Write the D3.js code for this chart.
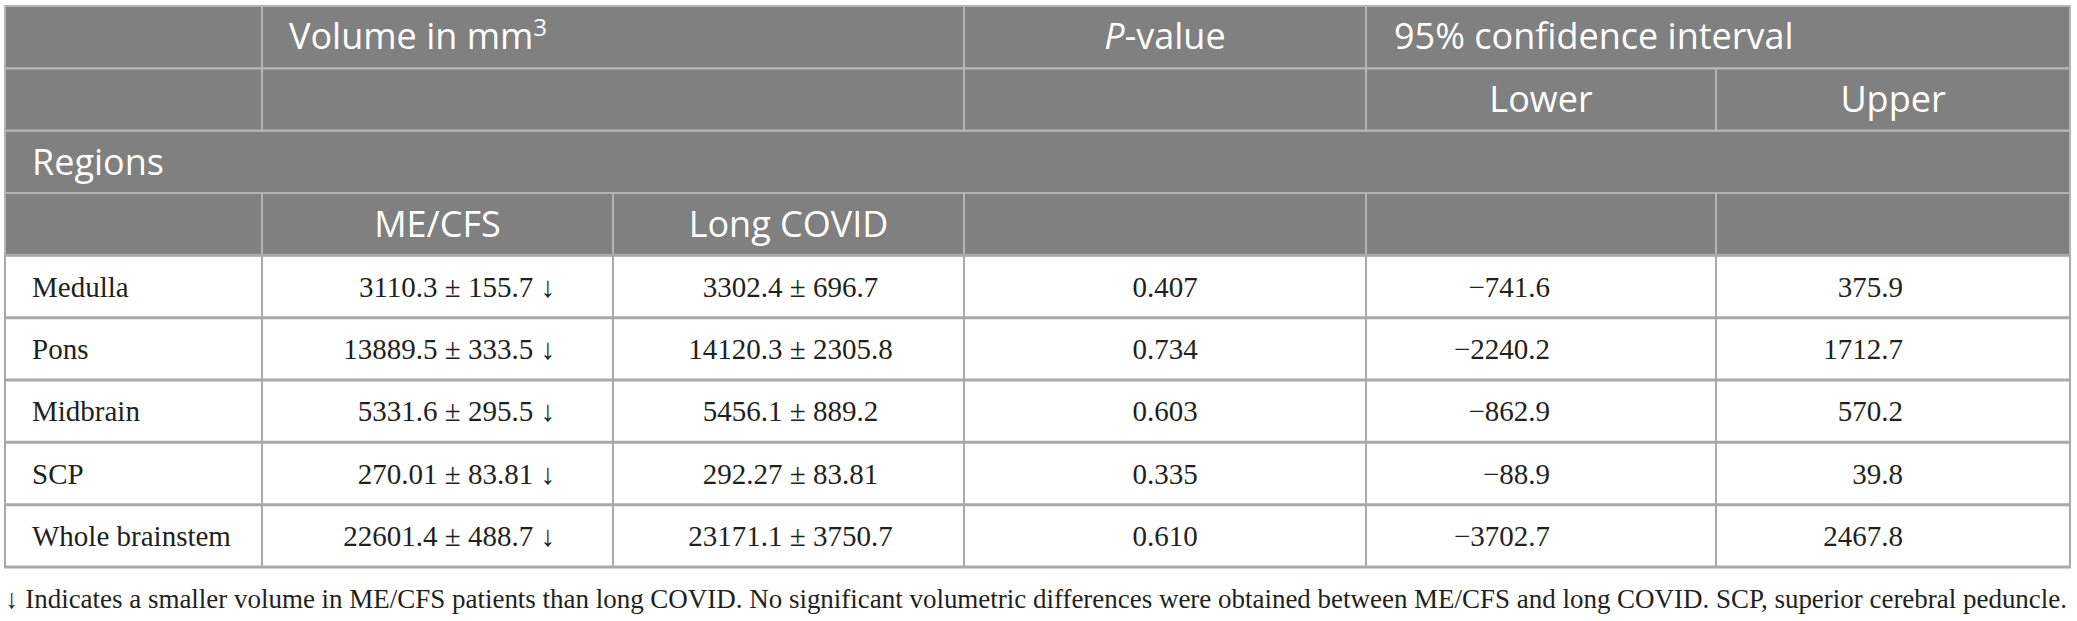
<!DOCTYPE html>
<html lang="en">
<head>
    <meta charset="UTF-8">
    <title>Brainstem volumes: ME/CFS vs long COVID</title>
    <script src="https://d3js.org/d3.v7.min.js"></script>
    <style>
        body {
            margin: 0;
            padding: 0;
            background-color: white;
        }
        svg {
            display: block;
        }
    </style>
</head>
<body>
    <div id="chart"></div>
    <script>
        // table values
        const regions = ["Medulla", "Pons", "Midbrain", "SCP", "Whole brainstem"];
        const mecfsMean = [3110.3, 13889.5, 5331.6, 270.01, 22601.4];
        const mecfsSd = [155.7, 333.5, 295.5, 83.81, 488.7];
        const longCovidMean = [3302.4, 14120.3, 5456.1, 292.27, 23171.1];
        const longCovidSd = [696.7, 2305.8, 889.2, 83.81, 3750.7];
        const decimals = [1, 1, 1, 2, 1];
        const pValues = [0.407, 0.734, 0.603, 0.335, 0.610];
        const ciLower = [-741.6, -2240.2, -862.9, -88.9, -3702.7];
        const ciUpper = [375.9, 1712.7, 570.2, 39.8, 2467.8];

        const groupLabels = ["ME/CFS", "Long COVID"];
        const ciLabels = ["Lower", "Upper"];
        const footnote = "\u2193 Indicates a smaller volume in ME/CFS patients than long COVID. No significant volumetric differences were obtained between ME/CFS and long COVID. SCP, superior cerebral peduncle.";

        const width = 2077, height = 621;
        const headerRows = 4;
        const nRows = headerRows + regions.length;

        // column edges and row edges
        const x = d3.scaleLinear()
            .domain([0, 1, 2, 3, 4, 5, 6])
            .range([5, 262, 613, 964, 1366, 1716, 2070]);
        const y = d3.scaleLinear().domain([0, nRows]).range([6, 567]);
        const rowMid = i => (y(i) + y(i + 1)) / 2;

        const headerFill = "#808080";
        const headerLine = "#b4b4b4";
        const bodyLine = "#a9a9a9";
        const sans = "'Open Sans', 'Noto Sans', sans-serif";
        const serif = "'Liberation Serif', 'Times New Roman', serif";

        const svg = d3.select("#chart")
            .append("svg")
            .attr("width", width)
            .attr("height", height);

        // header block
        svg.append("rect")
            .attr("x", x(0)).attr("y", y(0))
            .attr("width", x(6) - x(0)).attr("height", y(headerRows) - y(0))
            .attr("fill", headerFill);

        // header spans per row: [startCol, endCol]
        const headerSpans = [
            [[0, 1], [1, 3], [3, 4], [4, 6]],
            [[0, 1], [1, 3], [3, 4], [4, 5], [5, 6]],
            [[0, 6]],
            [[0, 1], [1, 2], [2, 3], [3, 4], [4, 5], [5, 6]]
        ];

        const hLines = svg.append("g")
            .attr("stroke", headerLine)
            .attr("fill", "none");

        headerSpans.forEach((spans, r) => {
            spans.forEach(s => {
                hLines.append("rect")
                    .attr("x", x(s[0])).attr("y", y(r))
                    .attr("width", x(s[1]) - x(s[0]))
                    .attr("height", y(r + 1) - y(r))
                    .attr("stroke-width", 2);
            });
        });

        // body grid
        const body = svg.append("g");
        body.selectAll("line.h")
            .data(d3.range(headerRows, nRows + 1))
            .join("line")
            .attr("class", "h")
            .attr("x1", x(0) - 1).attr("x2", x(6) + 1)
            .attr("y1", d => y(d)).attr("y2", d => y(d))
            .attr("stroke", bodyLine)
            .attr("stroke-width", 3);
        body.selectAll("line.v")
            .data(d3.range(0, 7))
            .join("line")
            .attr("class", "v")
            .attr("x1", d => x(d)).attr("x2", d => x(d))
            .attr("y1", y(headerRows)).attr("y2", y(nRows))
            .attr("stroke", bodyLine)
            .attr("stroke-width", 2);

        // header text
        const head = svg.append("g")
            .attr("fill", "white")
            .style("font-family", sans)
            .style("font-size", "36px");

        const vol = head.append("text")
            .attr("x", x(1) + 27)
            .attr("y", rowMid(0) + 12);
        vol.append("tspan").text("Volume in mm");
        vol.append("tspan").attr("dy", -13).style("font-size", "24px").text("3");

        const pv = head.append("text")
            .attr("x", (x(3) + x(4)) / 2)
            .attr("y", rowMid(0) + 12)
            .attr("text-anchor", "middle");
        pv.append("tspan").style("font-style", "italic").text("P");
        pv.append("tspan").text("-value");

        head.append("text")
            .attr("x", x(4) + 28)
            .attr("y", rowMid(0) + 12)
            .text("95% confidence interval");

        head.selectAll("text.ci")
            .data(ciLabels)
            .join("text")
            .attr("class", "ci")
            .attr("x", (d, i) => (x(4 + i) + x(5 + i)) / 2)
            .attr("y", rowMid(1) + 12)
            .attr("text-anchor", "middle")
            .text(d => d);

        head.append("text")
            .attr("x", x(0) + 27)
            .attr("y", rowMid(2) + 13)
            .text("Regions");

        head.selectAll("text.grp")
            .data(groupLabels)
            .join("text")
            .attr("class", "grp")
            .attr("x", (d, i) => (x(1 + i) + x(2 + i)) / 2)
            .attr("y", rowMid(3) + 13)
            .attr("text-anchor", "middle")
            .text(d => d);

        // body text
        const cells = svg.append("g")
            .attr("fill", "#231f20")
            .style("font-family", serif)
            .style("font-size", "29px");

        const pm = " \u00b1 ";
        const fmt = (v, d) => d3.format(`.${d}f`)(v);

        const rowsG = cells.selectAll("g")
            .data(regions)
            .join("g")
            .attr("transform", (d, i) => `translate(0,${rowMid(headerRows + i) + 10})`);

        rowsG.append("text")
            .attr("x", x(0) + 27)
            .text(d => d);

        rowsG.append("text")
            .attr("x", x(2) - 58)
            .attr("text-anchor", "end")
            .text((d, i) => fmt(mecfsMean[i], decimals[i]) + pm + fmt(mecfsSd[i], decimals[i]) + " \u2193");

        rowsG.append("text")
            .attr("x", (x(2) + x(3)) / 2 + 2)
            .attr("text-anchor", "middle")
            .text((d, i) => fmt(longCovidMean[i], decimals[i]) + pm + fmt(longCovidSd[i], decimals[i]));

        rowsG.append("text")
            .attr("x", (x(3) + x(4)) / 2)
            .attr("text-anchor", "middle")
            .text((d, i) => fmt(pValues[i], 3));

        rowsG.append("text")
            .attr("x", x(5) - 166)
            .attr("text-anchor", "end")
            .text((d, i) => fmt(ciLower[i], 1));

        rowsG.append("text")
            .attr("x", x(6) - 167)
            .attr("text-anchor", "end")
            .text((d, i) => fmt(ciUpper[i], 1));

        // footnote
        svg.append("text")
            .attr("x", x(0))
            .attr("y", 608)
            .attr("fill", "#231f20")
            .style("font-family", serif)
            .style("font-size", "27px")
            .attr("textLength", 2062)
            .attr("lengthAdjust", "spacing")
            .text(footnote);
    </script>
</body>
</html>
